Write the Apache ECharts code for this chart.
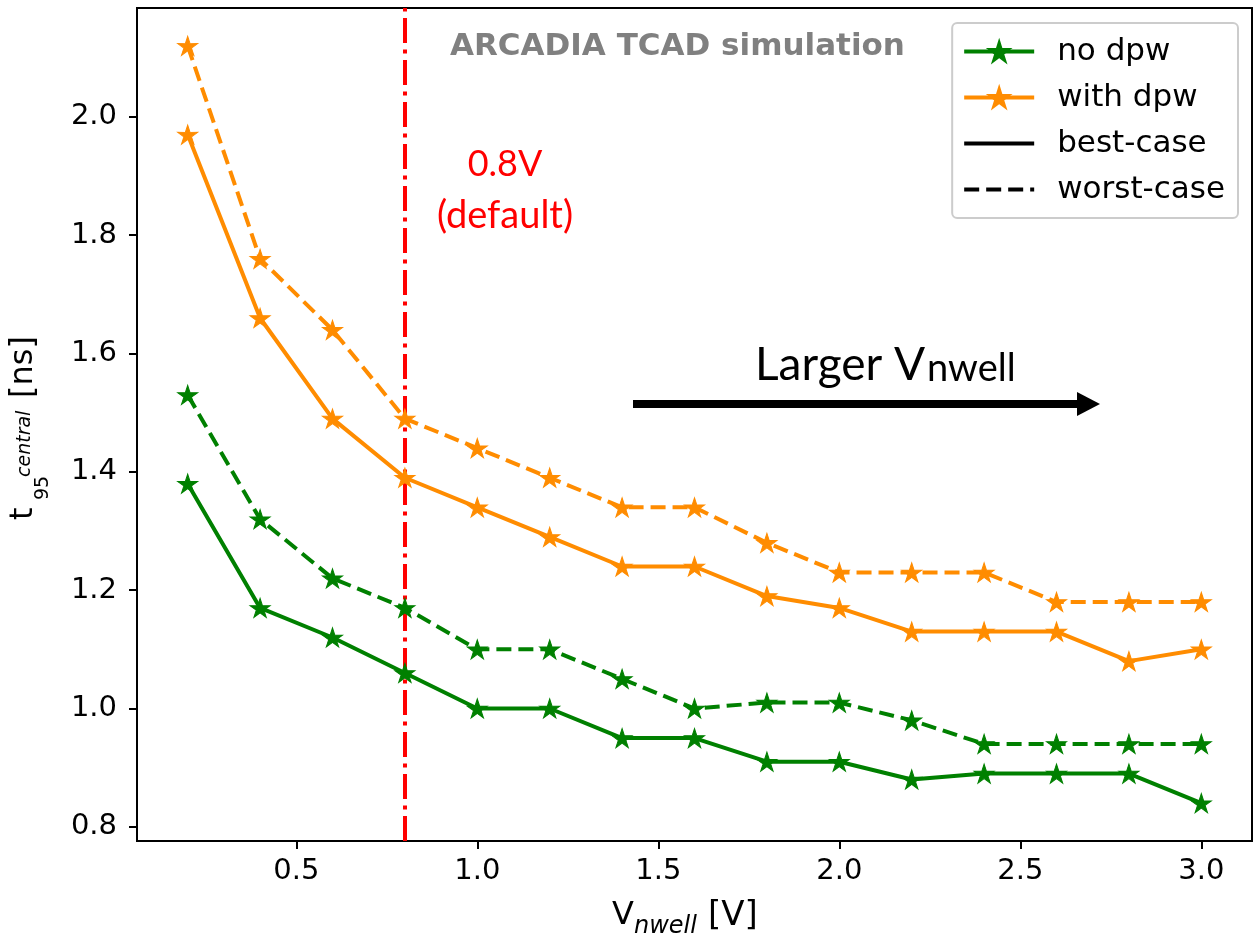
<!DOCTYPE html>
<html>
<head>
<meta charset="utf-8">
<script src="https://cdn.jsdelivr.net/npm/echarts@6/dist/echarts.min.js"></script>
<style>
  html, body { margin: 0; padding: 0; background: #fff; }
  #main { width: 1254px; height: 952px; }
</style>
</head>
<body>
<div id="main"></div>
<script>
// data
const vnwell = [0.2, 0.4, 0.6, 0.8, 1.0, 1.2, 1.4, 1.6, 1.8, 2.0, 2.2, 2.4, 2.6, 2.8, 3.0];
const noDpwBest = [1.38, 1.17, 1.12, 1.06, 1.00, 1.00, 0.95, 0.95, 0.91, 0.91, 0.88, 0.89, 0.89, 0.89, 0.84];
const noDpwWorst = [1.53, 1.32, 1.22, 1.17, 1.10, 1.10, 1.05, 1.00, 1.01, 1.01, 0.98, 0.94, 0.94, 0.94, 0.94];
const withDpwBest = [1.97, 1.66, 1.49, 1.39, 1.34, 1.29, 1.24, 1.24, 1.19, 1.17, 1.13, 1.13, 1.13, 1.08, 1.10];
const withDpwWorst = [2.12, 1.76, 1.64, 1.49, 1.44, 1.39, 1.34, 1.34, 1.28, 1.23, 1.23, 1.23, 1.18, 1.18, 1.18];
const defaultVoltage = [0.8];
const xTicks = [0.5, 1.0, 1.5, 2.0, 2.5, 3.0];
const yTicks = [0.8, 1.0, 1.2, 1.4, 1.6, 1.8, 2.0];

const GREEN = '#008000';
const ORANGE = '#ff8c00';
const FONT = 'DejaVu Sans';
const STAR = 'path://M50,0 L61.2,34.6 L97.6,34.5 L68.1,55.9 L79.4,90.5 L50,69 L20.6,90.5 L31.9,55.9 L2.4,34.5 L38.8,34.6 Z';

const pairs = (ys) => vnwell.map((x, i) => [x, ys[i]]);

const lineSeries = (name, ys, color, dashed) => ({
  name: name,
  type: 'line',
  data: pairs(ys),
  symbol: STAR,
  symbolSize: [20, 19],
  showSymbol: true,
  lineStyle: { color: color, width: 4, type: dashed ? [15, 7] : 'solid' },
  itemStyle: { color: color, borderColor: color, borderWidth: 1 },
  emphasis: { disabled: true },
  z: 3,
});

const myChart = echarts.init(document.getElementById('main'), null, { renderer: 'canvas' });

const option = {
  animation: false,
  backgroundColor: '#fff',
  grid: {
    left: 137,
    right: 2,
    top: 8,
    bottom: 111,
    show: true,
    borderColor: '#000',
    borderWidth: 2,
  },
  xAxis: {
    type: 'value',
    min: 0.06,
    max: 3.14,
    axisLine: { show: false, onZero: false },
    axisTick: {
      show: true,
      customValues: xTicks,
      length: 8,
      lineStyle: { color: '#000', width: 2 },
    },
    axisLabel: {
      customValues: xTicks,
      formatter: (v) => v.toFixed(1),
      fontFamily: FONT,
      fontSize: 29,
      color: '#000',
      margin: 16,
    },
    splitLine: { show: false },
  },
  yAxis: {
    type: 'value',
    min: 0.776,
    max: 2.184,
    axisLine: { show: false, onZero: false },
    axisTick: {
      show: true,
      customValues: yTicks,
      length: 8,
      lineStyle: { color: '#000', width: 2 },
    },
    axisLabel: {
      customValues: yTicks,
      formatter: (v) => v.toFixed(1),
      fontFamily: FONT,
      fontSize: 29,
      color: '#000',
      margin: 20,
    },
    splitLine: { show: false },
  },
  legend: {
    data: [
      'no dpw',
      'with dpw',
      { name: 'best-case', itemStyle: { opacity: 0 } },
      { name: 'worst-case', itemStyle: { opacity: 0 } },
    ],
    orient: 'vertical',
    right: 16,
    top: 23,
    itemWidth: 70,
    itemHeight: 26,
    itemGap: 15,
    padding: [13, 13, 13, 10],
    backgroundColor: 'rgba(255,255,255,0.8)',
    borderColor: '#cccccc',
    borderWidth: 2,
    borderRadius: 5,
    selectedMode: false,
    lineStyle: { width: 4 },
    textStyle: { fontFamily: FONT, fontSize: 31, color: '#000', padding: [0, 0, 0, 18] },
  },
  series: [
    Object.assign(lineSeries('no dpw', noDpwBest, GREEN, false), {
      markLine: {
        silent: true,
        symbol: ['none', 'none'],
        label: { show: false },
        lineStyle: { color: '#ff0000', width: 4, type: [25, 6.5, 4, 6.5] },
        data: defaultVoltage.map((v) => ({ xAxis: v })),
        z: 2,
      },
    }),
    lineSeries('no dpw worst', noDpwWorst, GREEN, true),
    lineSeries('with dpw', withDpwBest, ORANGE, false),
    lineSeries('with dpw worst', withDpwWorst, ORANGE, true),
    {
      name: 'best-case', type: 'line', data: [], symbol: 'none',
      lineStyle: { color: '#000', width: 4, type: 'solid' }, itemStyle: { color: '#000' },
    },
    {
      name: 'worst-case', type: 'line', data: [], symbol: 'none',
      lineStyle: { color: '#000', width: 4, type: [15, 7] }, itemStyle: { color: '#000' },
    },
  ],
  graphic: [
    // y axis title, rotated
    {
      type: 'group',
      x: 35,
      y: 520,
      rotation: Math.PI / 2,
      children: [
        { type: 'text', x: 0, y: -11, style: { text: 't', font: '32px "DejaVu Sans"', fill: '#000', align: 'left', verticalAlign: 'middle' } },
        { type: 'text', x: 20, y: 8, style: { text: '95', font: '19px "DejaVu Sans"', fill: '#000', align: 'left', verticalAlign: 'middle' } },
        { type: 'text', x: 43, y: -10, style: { text: 'central', font: 'italic 19px "DejaVu Sans"', fill: '#000', align: 'left', verticalAlign: 'middle' } },
        { type: 'text', x: 122, y: -11, style: { text: '[ns]', font: '32px "DejaVu Sans"', fill: '#000', align: 'left', verticalAlign: 'middle' } },
      ],
    },
    // x axis title
    { type: 'text', x: 612, y: 916, style: { text: 'V', font: '32px "DejaVu Sans"', fill: '#000', align: 'left', verticalAlign: 'middle' } },
    { type: 'text', x: 634, y: 927, style: { text: 'nwell', font: 'italic 24px "DejaVu Sans"', fill: '#000', align: 'left', verticalAlign: 'middle' } },
    { type: 'text', x: 708, y: 916, style: { text: '[V]', font: '34px "DejaVu Sans"', fill: '#000', align: 'left', verticalAlign: 'middle' } },
    // annotations
    { type: 'text', x: 450, y: 47, style: { text: 'ARCADIA TCAD simulation', font: 'bold 31px "DejaVu Sans"', fill: '#808080', align: 'left', verticalAlign: 'middle' } },
    { type: 'text', x: 505, y: 164, style: { text: '0.8V', font: '36px Lato', fill: '#ff0000', align: 'center', verticalAlign: 'middle' } },
    { type: 'text', x: 505, y: 216, style: { text: '(default)', font: '38px Lato', fill: '#ff0000', align: 'center', verticalAlign: 'middle' } },
    { type: 'text', x: 755, y: 365, style: { text: 'Larger V', font: '46px Lato', fill: '#000', align: 'left', verticalAlign: 'middle' } },
    { type: 'text', x: 927, y: 369, style: { text: 'nwell', font: '38px Lato', fill: '#000', align: 'left', verticalAlign: 'middle' } },
    { type: 'line', shape: { x1: 633, y1: 404, x2: 1080, y2: 404 }, style: { stroke: '#000', lineWidth: 8 } },
    { type: 'polygon', shape: { points: [[1077, 392], [1100, 404], [1077, 416]] }, style: { fill: '#000' } },
  ],
};

myChart.setOption(option);
</script>
</body>
</html>
